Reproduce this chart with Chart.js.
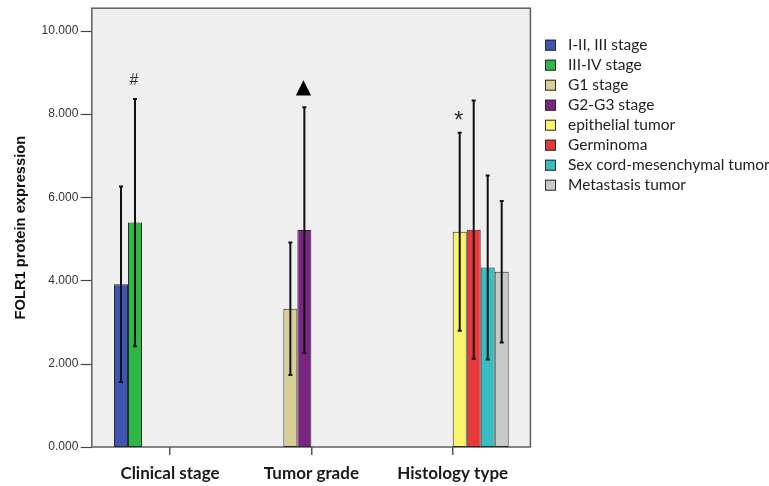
<!DOCTYPE html>
<html>
<head>
<meta charset="utf-8">
<script src="https://cdn.jsdelivr.net/npm/chart.js@4"></script>
<style>
  body { margin: 0; background: #ffffff; }
</style>
</head>
<body>
<canvas id="bar-chart" width="769" height="486"></canvas>
<script>
// FOLR1 expression, clustered bars with SD error bars

const categories = ["Clinical stage", "Tumor grade", "Histology type"];
const seriesNames = [
  "I-II, III stage",
  "III-IV stage",
  "G1 stage",
  "G2-G3 stage",
  "epithelial tumor",
  "Germinoma",
  "Sex cord-mesenchymal tumor",
  "Metastasis tumor",
];
const seriesGroup = [0, 0, 1, 1, 2, 2, 2, 2];
const seriesMean = [3.91, 5.39, 3.32, 5.21, 5.17, 5.22, 4.31, 4.21];
const seriesErr = [2.35, 2.97, 1.59, 2.95, 2.38, 3.10, 2.21, 1.70];
const seriesColors = ["#3e56b2", "#2db845", "#d8cf97", "#7b2583", "#f9f46c", "#e9373a", "#38bdc4", "#c9c9c9"];
const yTicks = [0, 2, 4, 6, 8, 10];
// significance marks: [series index, symbol, y value]
const marks = [
  [1, "#", 8.8],
  [3, "\u25B2", 8.62],
  [4, "*", 7.9],
];

const PAD_RIGHT = 245.6;

const datasets = seriesNames.map((name, k) => ({
  label: name,
  data: categories.map((c, i) => (i === seriesGroup[k] ? seriesMean[k] : null)),
  backgroundColor: seriesColors[k],
  borderColor: "#2a2a2a",
  borderWidth: 1,
  borderSkipped: false,
  categoryPercentage: 0.792,
  barPercentage: 1.0,
}));

const frame = {
  id: "frame",
  beforeDraw(chart) {
    const { ctx, chartArea: { left, right, top, bottom }, scales: { y } } = chart;
    const fl = left - 7.5;
    const fr = right + 7;
    ctx.save();
    ctx.fillStyle = "#efefef";
    ctx.fillRect(fl, top, fr - fl, bottom - top);
    ctx.strokeStyle = "#5f5f5f";
    ctx.lineWidth = 1.5;
    ctx.strokeRect(fl, top, fr - fl, bottom - top);
    // y tick marks
    ctx.lineWidth = 1.2;
    ctx.strokeStyle = "#444";
    y.ticks.forEach((t) => {
      const py = Math.round(y.getPixelForValue(t.value)) + 0.5;
      ctx.beginPath();
      ctx.moveTo(fl - 11, py);
      ctx.lineTo(fl, py);
      ctx.stroke();
    });
    ctx.restore();
  },
  afterDatasetsDraw(chart) {
    const { ctx, scales: { y } } = chart;
    ctx.save();
    ctx.strokeStyle = "#111";
    ctx.lineWidth = 2;
    chart.data.datasets.forEach((ds, k) => {
      const meta = chart.getDatasetMeta(k);
      meta.data.forEach((bar, i) => {
        if (ds.data[i] == null) return;
        const x = bar.x;
        const yt = y.getPixelForValue(seriesMean[k] + seriesErr[k]);
        const yb = y.getPixelForValue(seriesMean[k] - seriesErr[k]);
        ctx.beginPath();
        ctx.moveTo(x, yt);
        ctx.lineTo(x, yb);
        ctx.moveTo(x - 2, yt);
        ctx.lineTo(x + 2, yt);
        ctx.moveTo(x - 2, yb);
        ctx.lineTo(x + 2, yb);
        ctx.stroke();
      });
    });
    // marks above bars
    ctx.textAlign = "center";
    ctx.textBaseline = "middle";
    marks.forEach(([k, sym, v]) => {
      const bar = chart.getDatasetMeta(k).data[seriesGroup[k]];
      if (sym === "\u25B2") {
        ctx.fillStyle = "#000";
        ctx.font = "20px 'DejaVu Sans'";
      } else if (sym === "*") {
        ctx.fillStyle = "#333";
        ctx.font = "24px 'Liberation Sans'";
        v = v - 0.08;
      } else {
        ctx.fillStyle = "#333";
        ctx.font = "16px 'Liberation Sans'";
      }
      ctx.fillText(sym, bar.x - 1, y.getPixelForValue(v));
    });
    ctx.restore();
  },
  afterDraw(chart) {
    // legend on the right of the frame
    const { ctx, chartArea: { right, top } } = chart;
    const bx = right + 21.6;
    ctx.save();
    ctx.font = "15.5px Lato";
    ctx.textBaseline = "middle";
    ctx.textAlign = "left";
    chart.data.datasets.forEach((ds, k) => {
      const cy = top + 37 + k * 20;
      ctx.fillStyle = ds.backgroundColor;
      ctx.fillRect(bx, cy - 5.5, 11, 11);
      ctx.strokeStyle = "#2a2a2a";
      ctx.lineWidth = 1;
      ctx.strokeRect(bx + 0.5, cy - 5, 10, 10);
      ctx.fillStyle = "#222";
      ctx.fillText(ds.label, bx + 23, cy);
    });
    ctx.restore();
  },
};

const ctx = document.getElementById("bar-chart");

new Chart(ctx, {
  type: "bar",
  data: {
    labels: categories,
    datasets: datasets,
  },
  options: {
    responsive: false,
    animation: false,
    devicePixelRatio: 1,
    layout: {
      padding: { top: 8, right: PAD_RIGHT, bottom: 0, left: 0 },
    },
    plugins: {
      tooltip: { enabled: false },
      legend: { display: false },
    },
    scales: {
      x: {
        offset: true,
        border: { display: false },
        grid: {
          offset: false,
          drawOnChartArea: false,
          drawTicks: true,
          tickLength: 8,
          color: "#555",
          lineWidth: 1.5,
        },
        ticks: {
          padding: 8,
          color: "#1a1a1a",
          font: { family: "Lato", size: 17, weight: "bold" },
          maxRotation: 0,
        },
        afterFit(scale) {
          scale.height = 39;
        },
      },
      y: {
        min: 0,
        max: 10.54,
        border: { display: false },
        // tick marks are drawn by the frame plugin; tickLength only spaces the labels
        grid: { display: false, drawTicks: true, tickLength: 20 },
        afterBuildTicks(scale) {
          scale.ticks = yTicks.map((v) => ({ value: v }));
        },
        ticks: {
          padding: 1,
          color: "#333",
          font: { family: "Liberation Sans", size: 12 },
          callback: (v) => Number(v).toFixed(3),
        },
        title: {
          display: true,
          text: "FOLR1 protein expression",
          color: "#111",
          font: { family: "Liberation Sans", size: 14.7, weight: "bold" },
          padding: { top: 12, bottom: 0 },
        },
        afterFit(scale) {
          scale.width = 99.3;
        },
      },
    },
  },
  plugins: [frame],
});
</script>
</body>
</html>
